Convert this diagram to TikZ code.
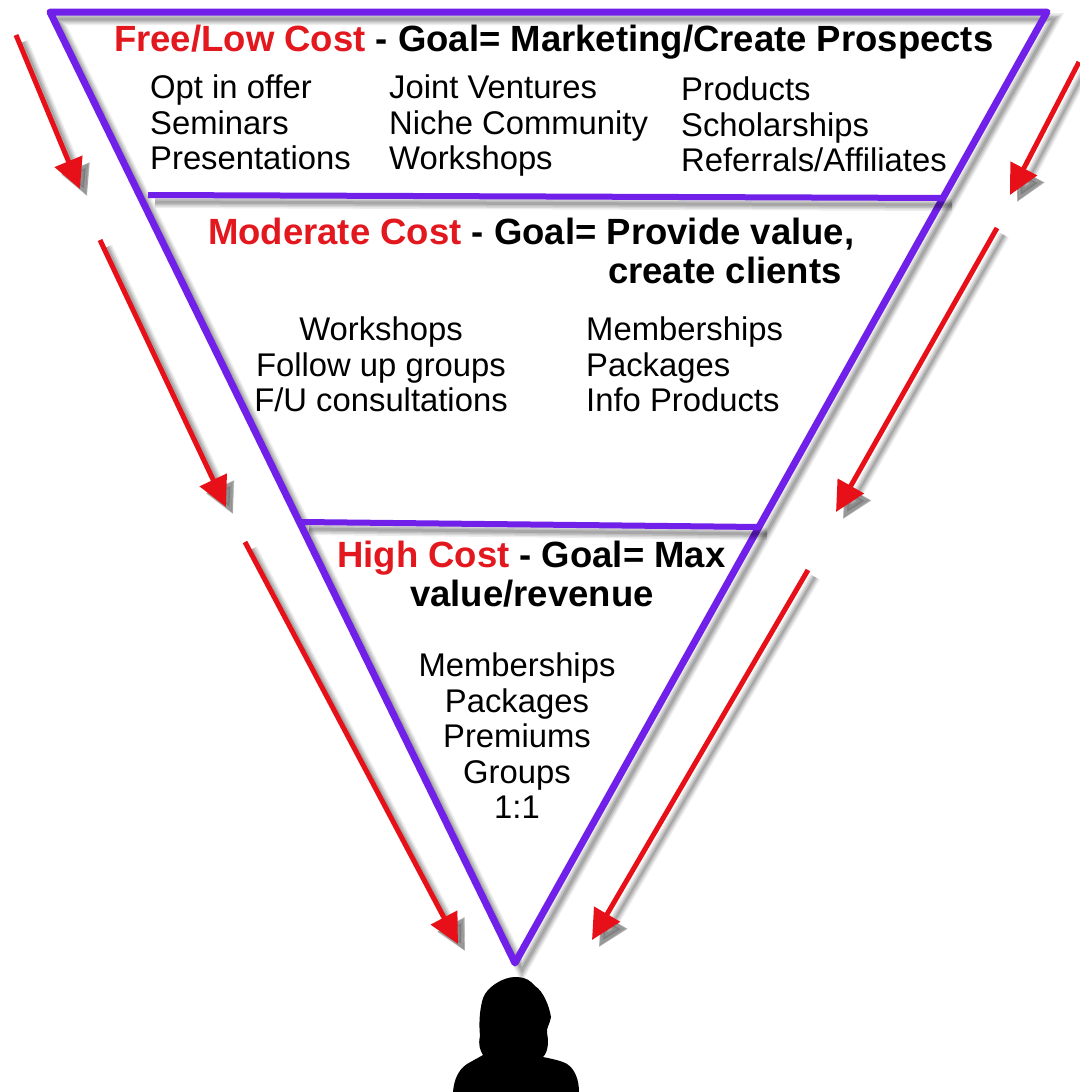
\documentclass[tikz,border=0pt]{standalone}
\usepackage{fontspec}
\setmainfont{Liberation Sans}
\usetikzlibrary{arrows.meta, positioning, calc}
\definecolor{funnelcolor}{RGB}{112, 32, 232}
\definecolor{arrowcolor}{RGB}{232, 16, 24}
\definecolor{costcolor}{RGB}{226, 24, 30}

\begin{document}
\begin{tikzpicture}[x=1pt, y=-1pt,
        softshadow/.style={preaction={draw=black, draw opacity=0.07, fill opacity=0.07, line width=#1+8pt, transform canvas={xshift=7pt, yshift=-7pt}},
            preaction={draw=black, draw opacity=0.09, fill opacity=0.09, line width=#1+5pt, transform canvas={xshift=7pt, yshift=-7pt}},
            preaction={draw=black, draw opacity=0.11, fill opacity=0.11, line width=#1+2pt, transform canvas={xshift=7pt, yshift=-7pt}},
            preaction={draw=black, draw opacity=0.12, fill opacity=0.12, line width=#1-1pt, transform canvas={xshift=7pt, yshift=-7pt}}},
        funnel/.style={draw=funnelcolor, line width=7pt, line join=round, softshadow=4pt},
        divider/.style={draw=funnelcolor, line width=6pt, softshadow=4pt},
        flowarrow/.style={draw=arrowcolor, line width=5pt, -{Triangle[length=30pt, width=29pt]}, softshadow=3pt},
        heading/.style={inner sep=0pt, anchor=base west, font=\fontsize{36.5}{40}\selectfont\bfseries},
        itemlist/.style={inner sep=0pt, align=left, anchor=north west, font=\fontsize{32.8}{35.5}\selectfont},
        itemcentre/.style={itemlist, align=center, anchor=north}
    ]
        \useasboundingbox (0,0) rectangle (1079,1092);
        \fill[white] (0,0) rectangle (1079,1092);

        % Funnel corners
        \coordinate (topleft) at (50,12);
        \coordinate (topright) at (1047,12);
        \coordinate (apex) at (515,963);
        \coordinate (midleft) at (148,195);
        \coordinate (midright) at (945,198);
        \coordinate (lowleft) at (302,522);
        \coordinate (lowright) at (760,527);

        % Arrow ends
        \coordinate (leftastart) at (16,35);
        \coordinate (leftaend) at (80,189);
        \coordinate (leftbstart) at (100,240);
        \coordinate (leftbend) at (226,507);
        \coordinate (leftcstart) at (245,542);
        \coordinate (leftcend) at (458,944);
        \coordinate (rightastart) at (1079,62);
        \coordinate (rightaend) at (1010,195);
        \coordinate (rightbstart) at (997,228);
        \coordinate (rightbend) at (836,512);
        \coordinate (rightcstart) at (808,570);
        \coordinate (rightcend) at (592,940);

        % Person
        \fill[black] (515,977) .. controls (526,977) and (531,981) .. (535,986)
            .. controls (543,991) and (549,1005) .. (551,1017)
            .. controls (550,1024) and (546,1028) .. (547,1033)
            .. controls (549,1042) and (548,1052) .. (543,1057)
            .. controls (553,1059) and (562,1061) .. (567,1064)
            .. controls (575,1069) and (579,1080) .. (579,1092)
            -- (453,1092)
            .. controls (454,1080) and (458,1070) .. (467,1064)
            .. controls (472,1061) and (478,1058) .. (483,1055)
            .. controls (480,1050) and (478,1045) .. (480,1036)
            .. controls (479,1025) and (479,1012) .. (483,998)
            .. controls (487,987) and (503,977) .. (515,977) -- cycle;

        % Funnel
        \draw[funnel] (topleft) -- (topright) -- (apex) -- cycle;
        \draw[divider] (midleft) -- (midright);
        \draw[divider] (lowleft) -- (lowright);

        % Arrows left
        \draw[flowarrow] (leftastart) -- (leftaend);
        \draw[flowarrow] (leftbstart) -- (leftbend);
        \draw[flowarrow] (leftcstart) -- (leftcend);

        % Arrows right
        \draw[flowarrow] (rightastart) -- (rightaend);
        \draw[flowarrow] (rightbstart) -- (rightbend);
        \draw[flowarrow] (rightcstart) -- (rightcend);

        % Free / low cost
        \node[heading] (freehead) at (114,51) {\textcolor{costcolor}{Free/Low Cost} - Goal= Marketing/Create Prospects};
        \node[itemlist] (freea) at (150,75) {Opt in offer\\Seminars\\Presentations};
        \node[itemlist] (freeb) at (389,75) {Joint Ventures\\Niche Community\\Workshops};
        \node[itemlist] (freec) at (681,77) {Products\\Scholarships\\Referrals/Affiliates};

        % Moderate cost
        \node[heading] (modhead) at (208,244) {\textcolor{costcolor}{Moderate Cost} - Goal= Provide value,};
        \node[heading] (modheadb) at (608,283) {create clients};
        \node[itemcentre] (moda) at (381,317) {Workshops\\Follow up groups\\F/U consultations};
        \node[itemlist] (modb) at (586,317) {Memberships\\Packages\\Info Products};

        % High cost
        \node[heading] (highhead) at (337,567) {\textcolor{costcolor}{High Cost} - Goal= Max};
        \node[heading] (highheadb) at (410,606) {value/revenue};
        \node[itemcentre] (higha) at (517,653) {Memberships\\Packages\\Premiums\\Groups\\1:1};
    \end{tikzpicture}
\end{document}
